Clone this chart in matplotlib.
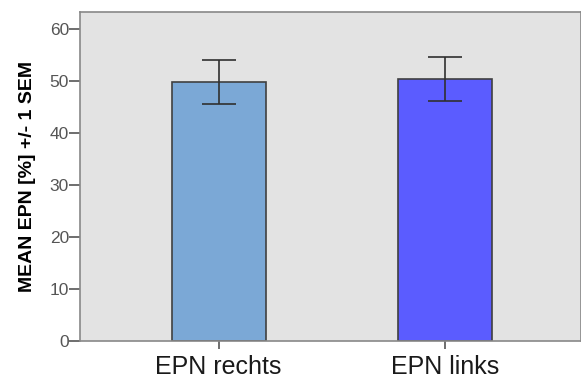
import matplotlib
matplotlib.use("Agg")
import matplotlib.pyplot as plt

# ───── data ─────
categories = ["EPN rechts", "EPN links"]
means      = [49.8, 50.4]
sems       = [4.2, 4.3]
colors     = ["#7ba8d6", "#5b5cff"]

plt.rcParams["font.family"] = ["Liberation Sans", "DejaVu Sans"]

fig = plt.figure(figsize=(5.81, 3.81), dpi=100)
ax = fig.add_axes([80 / 581, 40 / 381, 501 / 581, 329 / 381])
ax.set_facecolor("#e3e3e3")

x = range(len(categories))
ax.bar(x, means, width=0.415, color=colors, edgecolor="#404040", linewidth=1.2, zorder=2)
ax.errorbar(x, means, yerr=sems, fmt="none", ecolor="#303030", elinewidth=1.2,
            capsize=12, capthick=1.2, zorder=3)

ax.set_xlim(-0.612, 1.6)
ax.set_ylim(0, 63.3)
ax.set_yticks([0, 10, 20, 30, 40, 50, 60])
ax.set_xticks(list(x))
ax.set_xticklabels(categories, fontsize=18, color="#1a1a1a")
ax.tick_params(axis="y", labelsize=12.5, labelcolor="#555555", color="#555555",
               length=8, width=1.2, pad=0)
ax.tick_params(axis="x", color="#555555", length=6, width=1.2, pad=4)

for side in ["left", "bottom", "top", "right"]:
    ax.spines[side].set_color("#888888")
    ax.spines[side].set_linewidth(1.2)

ax.set_ylabel("MEAN EPN [%] +/- 1 SEM", fontsize=14, fontweight="bold", labelpad=10)

fig.savefig("out.png", dpi=100)
plt.close(fig)
